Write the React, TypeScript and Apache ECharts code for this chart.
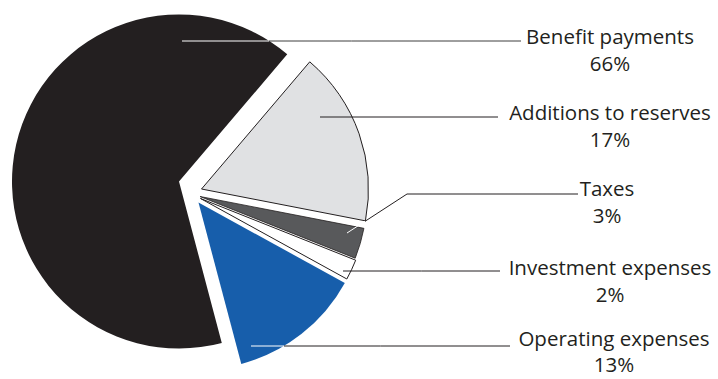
import React, { useEffect, useRef } from 'react';
import * as echarts from 'echarts';

// ---- data ----
const categories = ['Additions to reserves', 'Taxes', 'Investment expenses', 'Operating expenses', 'Benefit payments'];
const shares = [17, 3, 2, 13, 66];

// ---- style ----
const W = 718;
const H = 379;
const RADIUS = 167;
const FIRST_START = 40.4; // degrees clockwise from 12 o'clock where the first slice begins
const sliceCenters = [[201.5, 189], [200, 196.5], [200.5, 198.5], [198.5, 202.5], [179, 181.5]];
const sliceColors = ['#e0e1e3', '#58595b', '#ffffff', '#175eab', '#231f20'];
const sliceBorderColors = ['#231f20', '#231f20', '#231f20', '#175eab', '#231f20'];
const sliceBorderWidths = [1, 0.8, 1, 0, 0];
// leader line: start offset (x) relative to slice center, start y, optional knee, end x, line y
const leaderStartDx = [118.5, 147, 142.5, 52.5, 3];
const leaderStartY = [117, 233, 271, 346, 41];
const leaderKnee = [null, [407, 194], null, null, null];
const leaderY = [117, 194, 271, 346, 41];
const leaderEndX = [498, 578, 500, 510, 521];
const leaderInside = ['#231f20', '#ffffff', '#231f20', '#ffffff', '#ffffff'];
const leaderOutside = ['#231f20', '#231f20', '#231f20', '#231f20', '#3d3d3d'];
const labelX = [610, 607, 610, 614, 610];
const labelFirstLineY = [112, 188, 267, 338, 36];
const labelLineGap = [27, 27, 27, 26, 27];
const PCT_LINE_H = 20;
const FONT_SIZE = 20.5;
const TEXT_COLOR = '#231f20';
const FONT = '"Open Sans", "Noto Sans", sans-serif';

function crossT(p0: number[], p1: number[], c: number[], r: number) {
  const dx = p1[0] - p0[0];
  const dy = p1[1] - p0[1];
  const ox = p0[0] - c[0];
  const oy = p0[1] - c[1];
  const a = dx * dx + dy * dy;
  const b = 2 * (ox * dx + oy * dy);
  const cc = ox * ox + oy * oy - r * r;
  const disc = b * b - 4 * a * cc;
  if (disc < 0 || a === 0) return 0;
  const t = (-b + Math.sqrt(disc)) / (2 * a);
  return Math.max(0, Math.min(1, t));
}

export default function App() {
  const ref = useRef<HTMLDivElement>(null);

  useEffect(() => {
    if (!ref.current) return;
    document.body.style.margin = '0';
    const chart = echarts.init(ref.current, undefined, { renderer: 'svg' });
    const total = shares.reduce((a, b) => a + b, 0);

    const points: number[][][] = [];
    const strokes: any[] = [];
    categories.forEach((_, i) => {
      const c = sliceCenters[i];
      const p0 = [c[0] + leaderStartDx[i], leaderStartY[i]];
      const knee = leaderKnee[i];
      const end = [leaderEndX[i], leaderY[i]];
      const p1 = knee ? knee : end;
      const mid = knee ? knee : [(p0[0] + end[0]) / 2, (p0[1] + end[1]) / 2];
      points.push([p0, mid, end]);
      if (leaderInside[i] === leaderOutside[i]) {
        strokes.push(leaderInside[i]);
      } else {
        const t = crossT(p0, p1, c, RADIUS);
        strokes.push(
          new echarts.graphic.LinearGradient(
            p0[0], p0[1], p1[0], p1[1],
            [
              { offset: 0, color: leaderInside[i] },
              { offset: t, color: leaderInside[i] },
              { offset: t, color: leaderOutside[i] },
              { offset: 1, color: leaderOutside[i] },
            ],
            true
          )
        );
      }
    });

    const starts: number[] = [];
    let cum = 0;
    categories.forEach((_, i) => {
      starts.push(90 - (FIRST_START + (cum / total) * 360));
      cum += shares[i];
    });

    // bottom layer: the slices themselves
    const sliceSeries = categories.map((name, i) => ({
      type: 'pie',
      silent: true,
      z: 2,
      center: sliceCenters[i],
      radius: RADIUS,
      startAngle: starts[i],
      clockwise: true,
      avoidLabelOverlap: false,
      emphasis: { disabled: true },
      label: { show: false },
      labelLine: { show: false },
      data: [
        {
          name,
          value: shares[i],
          itemStyle: {
            color: sliceColors[i],
            borderColor: sliceBorderColors[i],
            borderWidth: sliceBorderWidths[i],
          },
        },
        {
          name: '',
          value: total - shares[i],
          itemStyle: { color: 'transparent', borderWidth: 0 },
        },
      ],
    }));

    // top layer: same geometry, transparent, carrying labels and leader lines
    const labelSeries = categories.map((name, i) => {
      const nameLineH = 2 * labelLineGap[i] - PCT_LINE_H;
      return {
        type: 'pie',
        silent: true,
        z: 5,
        center: sliceCenters[i],
        radius: RADIUS,
        startAngle: starts[i],
        clockwise: true,
        avoidLabelOverlap: false,
        emphasis: { disabled: true },
        label: {
          show: true,
          position: 'outside',
          formatter: '{n|{b}}\n{p|{c}%}',
          rich: {
            n: { fontFamily: FONT, fontSize: FONT_SIZE, lineHeight: nameLineH, color: TEXT_COLOR, align: 'center' },
            p: { fontFamily: FONT, fontSize: FONT_SIZE, lineHeight: PCT_LINE_H, color: TEXT_COLOR, align: 'center' },
          },
        },
        labelLine: {
          show: true,
          lineStyle: { color: strokes[i], width: 1 },
        },
        labelLayout: (params: any) => {
          if (params.dataIndex !== 0) return {};
          return {
            x: labelX[i],
            y: labelFirstLineY[i] - nameLineH / 2 + (nameLineH + PCT_LINE_H) / 2,
            align: 'center',
            verticalAlign: 'middle',
            labelLinePoints: points[i],
          };
        },
        data: [
          {
            name,
            value: shares[i],
            itemStyle: { color: 'transparent', borderWidth: 0 },
          },
          {
            name: '',
            value: total - shares[i],
            itemStyle: { color: 'transparent', borderWidth: 0 },
            label: { show: false },
            labelLine: { show: false },
          },
        ],
      };
    });

    chart.setOption({
      animation: false,
      backgroundColor: '#ffffff',
      tooltip: { show: false },
      series: [...sliceSeries, ...labelSeries],
    } as any);

    return () => {
      chart.dispose();
    };
  }, []);

  return <div ref={ref} style={{ width: W, height: H }} />;
}
